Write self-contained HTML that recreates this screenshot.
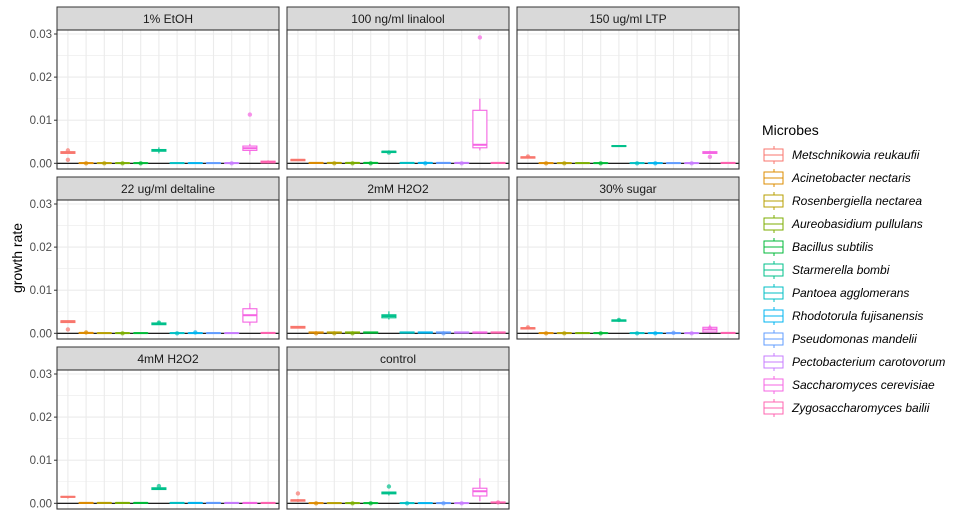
<!DOCTYPE html>
<html><head><meta charset="utf-8"><style>
body{margin:0;background:#fff;font-family:"Liberation Sans",Arial,sans-serif}
</style></head><body>
<svg id="chart" width="966" height="520" xmlns="http://www.w3.org/2000/svg"></svg>
<script>
const facets = ["1% EtOH","100 ng/ml linalool","150 ug/ml LTP","22 ug/ml deltaline","2mM H2O2","30% sugar","4mM H2O2","control"];
const microbes = ["Metschnikowia reukaufii","Acinetobacter nectaris","Rosenbergiella nectarea","Aureobasidium pullulans","Bacillus subtilis","Starmerella bombi","Pantoea agglomerans","Rhodotorula fujisanensis","Pseudomonas mandelii","Pectobacterium carotovorum","Saccharomyces cerevisiae","Zygosaccharomyces bailii"];
const colors = ["#F8766D","#DE8C00","#B79F00","#7CAE00","#00BA38","#00C08B","#00BFC4","#00B4F0","#619CFF","#C77CFF","#F564E3","#FF64B0"];
const yTicks = [0,0.01,0.02,0.03];
const yTickLabels = ["0.00","0.01","0.02","0.03"];
// values in units of 0.001, per facet, per microbe
const medians = [
 [2.5,0.05,0.05,0.05,0.05,3.0,0.05,0.05,0.05,0.05,3.5,0.3],
 [0.8,0.1,0.1,0.1,0.1,2.7,0.1,0.1,0.1,0.1,4.3,0.1],
 [1.4,0.05,0.05,0.05,0.05,4.0,0.05,0.05,0.05,0.05,2.5,0.1],
 [2.8,0.1,0.05,0.05,0.05,2.2,0.05,0.05,0.05,0.05,4.2,0.1],
 [1.4,0.2,0.2,0.2,0.2,4.0,0.2,0.2,0.2,0.2,0.2,0.2],
 [1.2,0.05,0.05,0.05,0.05,3.0,0.05,0.05,0.05,0.05,0.9,0.1],
 [1.5,0.1,0.1,0.1,0.1,3.4,0.1,0.1,0.1,0.1,0.1,0.1],
 [0.7,0.05,0.05,0.05,0.05,2.5,0.05,0.05,0.05,0.05,2.8,0.2]];
const q1s = [
 [2.3,0,0,0,0,2.8,0,0,0,0,3.0,0.1],
 [0.6,0,0,0,0,2.5,0,0,0,0,3.6,0],
 [1.2,0,0,0,0,3.9,0,0,0,0,2.3,0],
 [2.5,0,0,0,0,2.0,0,0,0,0,2.6,0],
 [1.2,0.05,0.05,0.05,0.05,3.6,0.05,0.05,0.05,0.05,0.05,0.05],
 [1.0,0,0,0,0,2.8,0,0,0,0,0.3,0],
 [1.4,0,0,0,0,3.2,0,0,0,0,0,0],
 [0.5,0,0,0,0,2.2,0,0,0,0,1.7,0.1]];
const q3s = [
 [2.7,0.1,0.1,0.1,0.1,3.2,0.1,0.1,0.1,0.1,4.0,0.5],
 [0.9,0.15,0.15,0.15,0.15,2.8,0.15,0.15,0.15,0.15,12.3,0.15],
 [1.5,0.1,0.1,0.1,0.1,4.1,0.1,0.1,0.1,0.1,2.7,0.15],
 [2.9,0.15,0.1,0.1,0.1,2.4,0.1,0.1,0.1,0.1,5.7,0.15],
 [1.6,0.3,0.3,0.3,0.3,4.3,0.3,0.3,0.3,0.3,0.3,0.3],
 [1.3,0.1,0.1,0.1,0.1,3.1,0.1,0.1,0.1,0.1,1.4,0.15],
 [1.6,0.15,0.15,0.15,0.15,3.6,0.15,0.15,0.15,0.15,0.15,0.15],
 [0.8,0.1,0.1,0.1,0.1,2.6,0.1,0.1,0.1,0.1,3.5,0.3]];
const whiskLo = [
 [2.3,0,0,0,0,2.3,0,0,0,0,2.0,0],
 [0.6,0,0,0,0,2.4,0,0,0,0,3.0,0],
 [1.2,0,0,0,0,3.9,0,0,0,0,2.3,0],
 [2.5,0,0,0,0,2.0,0,0,0,0,1.8,0],
 [1.2,0,0,0,0,3.2,0,0,0,0,0,0],
 [1.0,0,0,0,0,2.8,0,0,0,0,0.3,0],
 [1.1,0,0,0,0,3.2,0,0,0,0,0,0],
 [0.3,0,0,0,0,1.8,0,0,0,0,0.5,0]];
const whiskHi = [
 [2.7,0.2,0.2,0.2,0.2,3.7,0.1,0.1,0.1,0.2,4.5,0.7],
 [0.9,0.2,0.2,0.2,0.2,3.0,0.2,0.3,0.2,0.3,15.0,0.2],
 [1.8,0.2,0.2,0.1,0.2,4.1,0.2,0.2,0.1,0.2,2.9,0.2],
 [3.0,0.4,0.1,0.2,0.1,2.8,0.1,0.3,0.1,0.1,7.0,0.2],
 [1.6,0.4,0.4,0.4,0.3,5.1,0.3,0.3,0.4,0.3,0.3,0.3],
 [1.6,0.2,0.1,0.3,0.2,3.4,0.2,0.3,0.3,0.2,2.0,0.3],
 [1.6,0.15,0.15,0.15,0.15,3.6,0.15,0.15,0.15,0.15,0.15,0.15],
 [1.0,0.2,0.1,0.2,0.2,2.6,0.2,0.1,0.2,0.2,5.8,0.4]];
const outliers = [
 [[3.0,0.8],[0],[0],[0],[0],[],[],[],[],[0],[11.3],[]],
 [[],[],[0],[0],[0],[2.5],[],[0],[],[0],[29.2],[]],
 [[1.6],[0],[0],[],[0],[],[0],[0],[],[0],[1.5],[]],
 [[0.9],[0.2],[],[0],[],[2.5],[0],[0.2],[],[],[],[]],
 [[],[0],[0],[0],[],[],[],[],[0],[],[],[]],
 [[1.4],[0],[0],[],[0],[3.1],[0],[0],[0.1],[0],[1.2],[]],
 [[],[],[],[],[],[4.0],[],[],[],[],[],[]],
 [[2.3],[0],[],[0],[0],[3.9],[0],[],[0],[0],[],[0.2]]];

const NS="http://www.w3.org/2000/svg";
const svg=document.getElementById('chart');
function mk(tag,attrs,parent){const e=document.createElementNS(NS,tag);for(const k in attrs)e.setAttribute(k,attrs[k]);(parent||svg).appendChild(e);return e;}
const colX=[57,287,517], rowY=[7,177,347], PW=222, SH=23, PH=139;
const yMin=-0.00132, yMax=0.03093;
for(let f=0;f<facets.length;f++){
  const c=f%3, r=Math.floor(f/3);
  const x0=colX[c], sy=rowY[r], py=sy+SH;
  const g=mk('g',{});
  
  
  const xs=i=>x0+(i+1-0.4)/12.2*PW;
  const ys=v=>py+PH-(v-yMin)/(yMax-yMin)*PH;
  const strip=mk('rect',{x:x0,y:sy,width:PW,height:SH,fill:'#D9D9D9',stroke:'#333','stroke-width':1},g);
  
  
  const st=mk('text',{x:x0+PW/2,y:sy+16,'text-anchor':'middle','font-size':12,fill:'#1A1A1A'},g);
  st.textContent=facets[f];
  
  
  for(let k=0;k<7;k++){const v=k*0.005;const y=ys(v);mk('line',{x1:x0,x2:x0+PW,y1:y,y2:y,stroke:'#EBEBEB','stroke-width':k%2?0.6:1.1},g);}
  for(let i=0;i<12;i++){const x=xs(i);mk('line',{x1:x,x2:x,y1:py,y2:py+PH,stroke:'#EBEBEB','stroke-width':1.1},g);}
  mk('line',{x1:x0,x2:x0+PW,y1:ys(0),y2:ys(0),stroke:'#000','stroke-width':1.2},g);
  for(let i=0;i<12;i++){
    const x=xs(i), col=colors[i], bw=7;
    const b=mk('g',{},g);
    
    
    const s=v=>ys(v/1000);
    mk('line',{x1:x,x2:x,y1:s(whiskLo[f][i]),y2:s(whiskHi[f][i]),stroke:col,'stroke-width':1.1},b);
    mk('rect',{x:x-bw,y:s(q3s[f][i]),width:2*bw,height:Math.max(0.5,s(q1s[f][i])-s(q3s[f][i])),fill:'#fff',stroke:col,'stroke-width':1.1},b);
    mk('line',{x1:x-bw,x2:x+bw,y1:s(medians[f][i]),y2:s(medians[f][i]),stroke:col,'stroke-width':2},b);
    for(const o of outliers[f][i]){mk('circle',{cx:x,cy:s(o),r:2.2,fill:col,'fill-opacity':0.7},b);}
  }
  mk('rect',{x:x0,y:py,width:PW,height:PH,fill:'none',stroke:'#333','stroke-width':1.1},g);
  if(c===0){
    for(let t=0;t<yTicks.length;t++){const y=ys(yTicks[t]);
      mk('line',{x1:x0-3,x2:x0,y1:y,y2:y,stroke:'#333'},g);
      const tl=mk('text',{x:x0-5,y:y+4,'text-anchor':'end','font-size':11.5,fill:'#4D4D4D'},g);
      tl.textContent=yTickLabels[t];
      
      
    }
  }
}
const yt=mk('text',{x:0,y:0,transform:'translate(22,258) rotate(-90)','text-anchor':'middle','font-size':14,fill:'#000'});
yt.textContent='growth rate';


const lg=mk('g',{});


const lt=mk('text',{x:762,y:135,'font-size':14,fill:'#000'},lg);
lt.textContent='Microbes';


for(let i=0;i<microbes.length;i++){
  const cy=155+i*23;
  const e=mk('g',{},lg);
  
  
  mk('line',{x1:774,x2:774,y1:cy-9,y2:cy+9,stroke:colors[i]},e);
  mk('rect',{x:764,y:cy-6,width:19,height:12,fill:'#fff',stroke:colors[i]},e);
  mk('line',{x1:764,x2:783,y1:cy,y2:cy,stroke:colors[i]},e);
  const t=mk('text',{x:792,y:cy+4,'font-size':12,'font-style':'italic',fill:'#000'},e);
  t.textContent=microbes[i];
}
</script>
</body></html>
